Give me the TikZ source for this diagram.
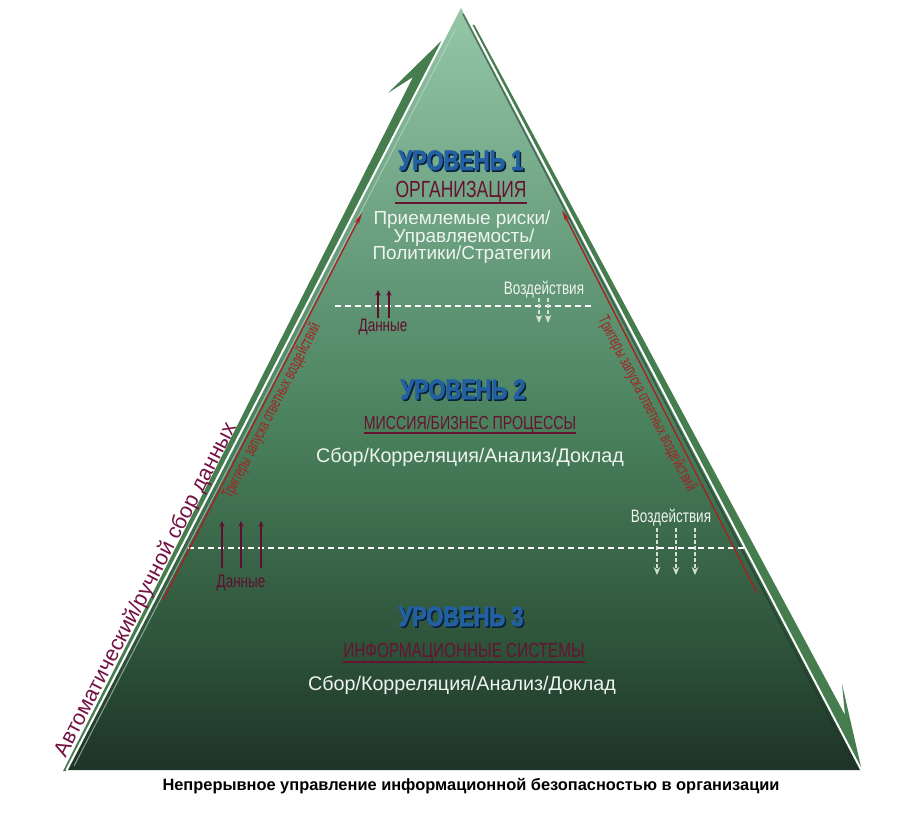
\documentclass[tikz,border=0pt]{standalone}
\usepackage{fontspec}
\setmainfont{Liberation Sans}
\newfontfamily\narrowf[FakeStretch=0.75]{Liberation Sans}
\newfontfamily\narrowtf[FakeStretch=0.62]{Liberation Sans}
\newfontfamily\titlef[FakeStretch=0.78,BoldFeatures={FakeBold=2.2}]{Liberation Sans}
\usetikzlibrary{arrows.meta,calc}
\definecolor{pyr0}{HTML}{1E3327}
\definecolor{pyr1}{HTML}{2D5239}
\definecolor{pyr2}{HTML}{4B825E}
\definecolor{pyr3}{HTML}{6A9F80}
\definecolor{pyr4}{HTML}{8CBF9F}
\definecolor{pyr5}{HTML}{96C8A8}
\definecolor{stripg}{HTML}{467D4F}
\definecolor{lvlblue}{HTML}{2260A2}
\definecolor{lvlshadow}{HTML}{0A2038}
\definecolor{maroonc}{HTML}{661231}
\definecolor{datared}{HTML}{5E1030}
\definecolor{trigred}{HTML}{A52222}
\definecolor{autotext}{HTML}{741243}
\definecolor{paletext}{HTML}{EEF4EE}
\definecolor{arrgray}{HTML}{D6DCD6}
\pgfdeclareverticalshading{pyrshade}{100bp}{color(0bp)=(pyr0); color(25bp)=(pyr0); color(33bp)=(pyr1); color(48bp)=(pyr2); color(60bp)=(pyr3); color(72bp)=(pyr4); color(75bp)=(pyr5); color(100bp)=(pyr5)}
\begin{document}
\begin{tikzpicture}[x=0.75pt,y=-0.75pt,
  lvl/.style={font=\titlef\bfseries\fontsize{21}{24}\selectfont, text=lvlblue, inner sep=0, anchor=base},
  lvlsh/.style={lvl, text=lvlshadow},
  subt/.style={font=\narrowf\fontsize{17.5}{20}\selectfont, text=maroonc, inner sep=0, anchor=base},
  bodyt/.style={font=\fontsize{14.2}{16}\selectfont, text=paletext, inner sep=0, anchor=base},
  smallt/.style={font=\narrowf\fontsize{13.5}{15}\selectfont, inner sep=0, anchor=base},
  trigtext/.style={font=\narrowtf\fontsize{12.6}{13}\selectfont, text=trigred, inner sep=0},
  autot/.style={font=\fontsize{16.2}{18}\selectfont, text=autotext, inner sep=0},
  bottomt/.style={font=\bfseries\fontsize{12.3}{14}\selectfont, text=black, inner sep=0, anchor=base},
  uline/.style={maroonc, line width=1.3pt},
  dashline/.style={white, line width=0.8pt, dash pattern=on 4.5pt off 3pt},
  trig/.style={trigred, line width=1pt, -{Stealth[length=9pt,width=3.6pt]}},
  dataarr/.style={datared, line width=0.9pt, -{Stealth[length=4.5pt,width=4pt]}},
  actarr/.style={arrgray, line width=0.8pt, dash pattern=on 3pt off 1.5pt, -{Stealth[length=6pt,width=5pt,inset=2pt]}}
]
\useasboundingbox (0,0) rectangle (915,838);
\fill[white] (0,0) rectangle (915,838);

\coordinate (A) at (461,8);
\coordinate (L) at (68,770);
\coordinate (R) at (860,770);

% green swoosh arrows along the edges
\fill[stripg] (65.8,771) -- (442.3,40) -- (388,93) -- (413,77) -- (63,771) -- cycle;
\fill[stripg] (472,25) -- (861.5,769) -- (842,684) -- (845,715) -- (474.5,25) -- cycle;
\draw[white, line width=1.4pt] (66.6,770) -- (443.2,40);
\draw[white, line width=1.4pt] (469.7,22) -- (861.3,770);

% pyramid
\shade[shading=pyrshade] (A) -- (L) -- (R) -- cycle;
\draw[pyr0, opacity=0.55, line width=1.2pt] (463,14) -- (855,767);
\draw[color=white!60!pyr3, opacity=0.6, line width=0.8pt] (455,30) -- (74,766);

% dashed level boundaries
\draw[dashline] (335,306) -- (593,306);
\draw[dashline] (188,548) -- (745,548);

% trigger arrows
\coordinate (tl0) at (163,600); \coordinate (tl1) at (362,213);
\draw[trig] (tl0) -- (tl1);
\coordinate (tr0) at (757,593); \coordinate (tr1) at (562,210);
\draw[trig] (tr0) -- (tr1);
\node[trigtext, rotate=62.7] (trl) at (272,411) {Триггеры запуска ответных воздействий};
\node[trigtext, rotate=-62.4] (trr) at (647,404) {Триггеры запуска ответных воздействий};

% left outer label
\node[autot, rotate=62.7] (auto) at (146,590) {Автоматический/ручной сбор данных};

% level 1
\node[lvlsh] (t1s) at (462.5,171.5) {УРОВЕНЬ 1};
\node[lvl] (t1) at (461,170) {УРОВЕНЬ 1};
\node[subt] (s1) at (461,198) {ОРГАНИЗАЦИЯ};
\draw[uline] ($(s1.base west)+(0,5)$) -- ($(s1.base east)+(0,5)$);
\node[bodyt] (b1a) at (462,225) {Приемлемые риски/};
\node[bodyt] (b1b) at (464,242.5) {Управляемость/};
\node[bodyt] (b1c) at (462,260) {Политики/Стратегии};

% level 1/2 data and actions
\node[smallt, text=datared] (d1) at (383,331) {Данные};
\foreach \x in {378,389}{
  \coordinate (d1s\x) at (\x,318); \coordinate (d1e\x) at (\x,290);
  \draw[dataarr] (d1s\x) -- (d1e\x);
}
\node[smallt, text=paletext] (v1) at (544,295) {Воздействия};
\foreach \x in {539,548}{
  \coordinate (v1s\x) at (\x,298); \coordinate (v1e\x) at (\x,323);
  \draw[actarr] (v1s\x) -- (v1e\x);
}

% level 2
\node[lvlsh] (t2s) at (464.5,400.5) {УРОВЕНЬ 2};
\node[lvl] (t2) at (463,399) {УРОВЕНЬ 2};
\node[subt, font=\narrowf\fontsize{14.2}{16}\selectfont] (s2) at (470,429) {МИССИЯ/БИЗНЕС ПРОЦЕССЫ};
\draw[uline] ($(s2.base west)+(0,4)$) -- ($(s2.base east)+(0,4)$);
\node[bodyt, font=\fontsize{14.8}{16}\selectfont] (b2) at (470,462) {Сбор/Корреляция/Анализ/Доклад};

% level 2/3 data and actions
\node[smallt, text=datared] (d2) at (241,587) {Данные};
\foreach \x in {222,241,261}{
  \coordinate (d2s\x) at (\x,568); \coordinate (d2e\x) at (\x,521);
  \draw[dataarr] (d2s\x) -- (d2e\x);
}
\node[smallt, text=paletext] (v2) at (671,522) {Воздействия};
\foreach \x in {657,676,695}{
  \coordinate (v2s\x) at (\x,528); \coordinate (v2e\x) at (\x,575);
  \draw[actarr] (v2s\x) -- (v2e\x);
}

% level 3
\node[lvlsh] (t3s) at (462.5,627.5) {УРОВЕНЬ 3};
\node[lvl] (t3) at (461,626) {УРОВЕНЬ 3};
\node[subt, font=\narrowf\fontsize{15.3}{17}\selectfont] (s3) at (464,657) {ИНФОРМАЦИОННЫЕ СИСТЕМЫ};
\draw[uline] ($(s3.base west)+(0,5)$) -- ($(s3.base east)+(0,5)$);
\node[bodyt, font=\fontsize{14.8}{16}\selectfont] (b3) at (462,690) {Сбор/Корреляция/Анализ/Доклад};

% caption
\node[bottomt] (cap) at (471,790) {Непрерывное управление информационной безопасностью в организации};
\end{tikzpicture}
\end{document}
